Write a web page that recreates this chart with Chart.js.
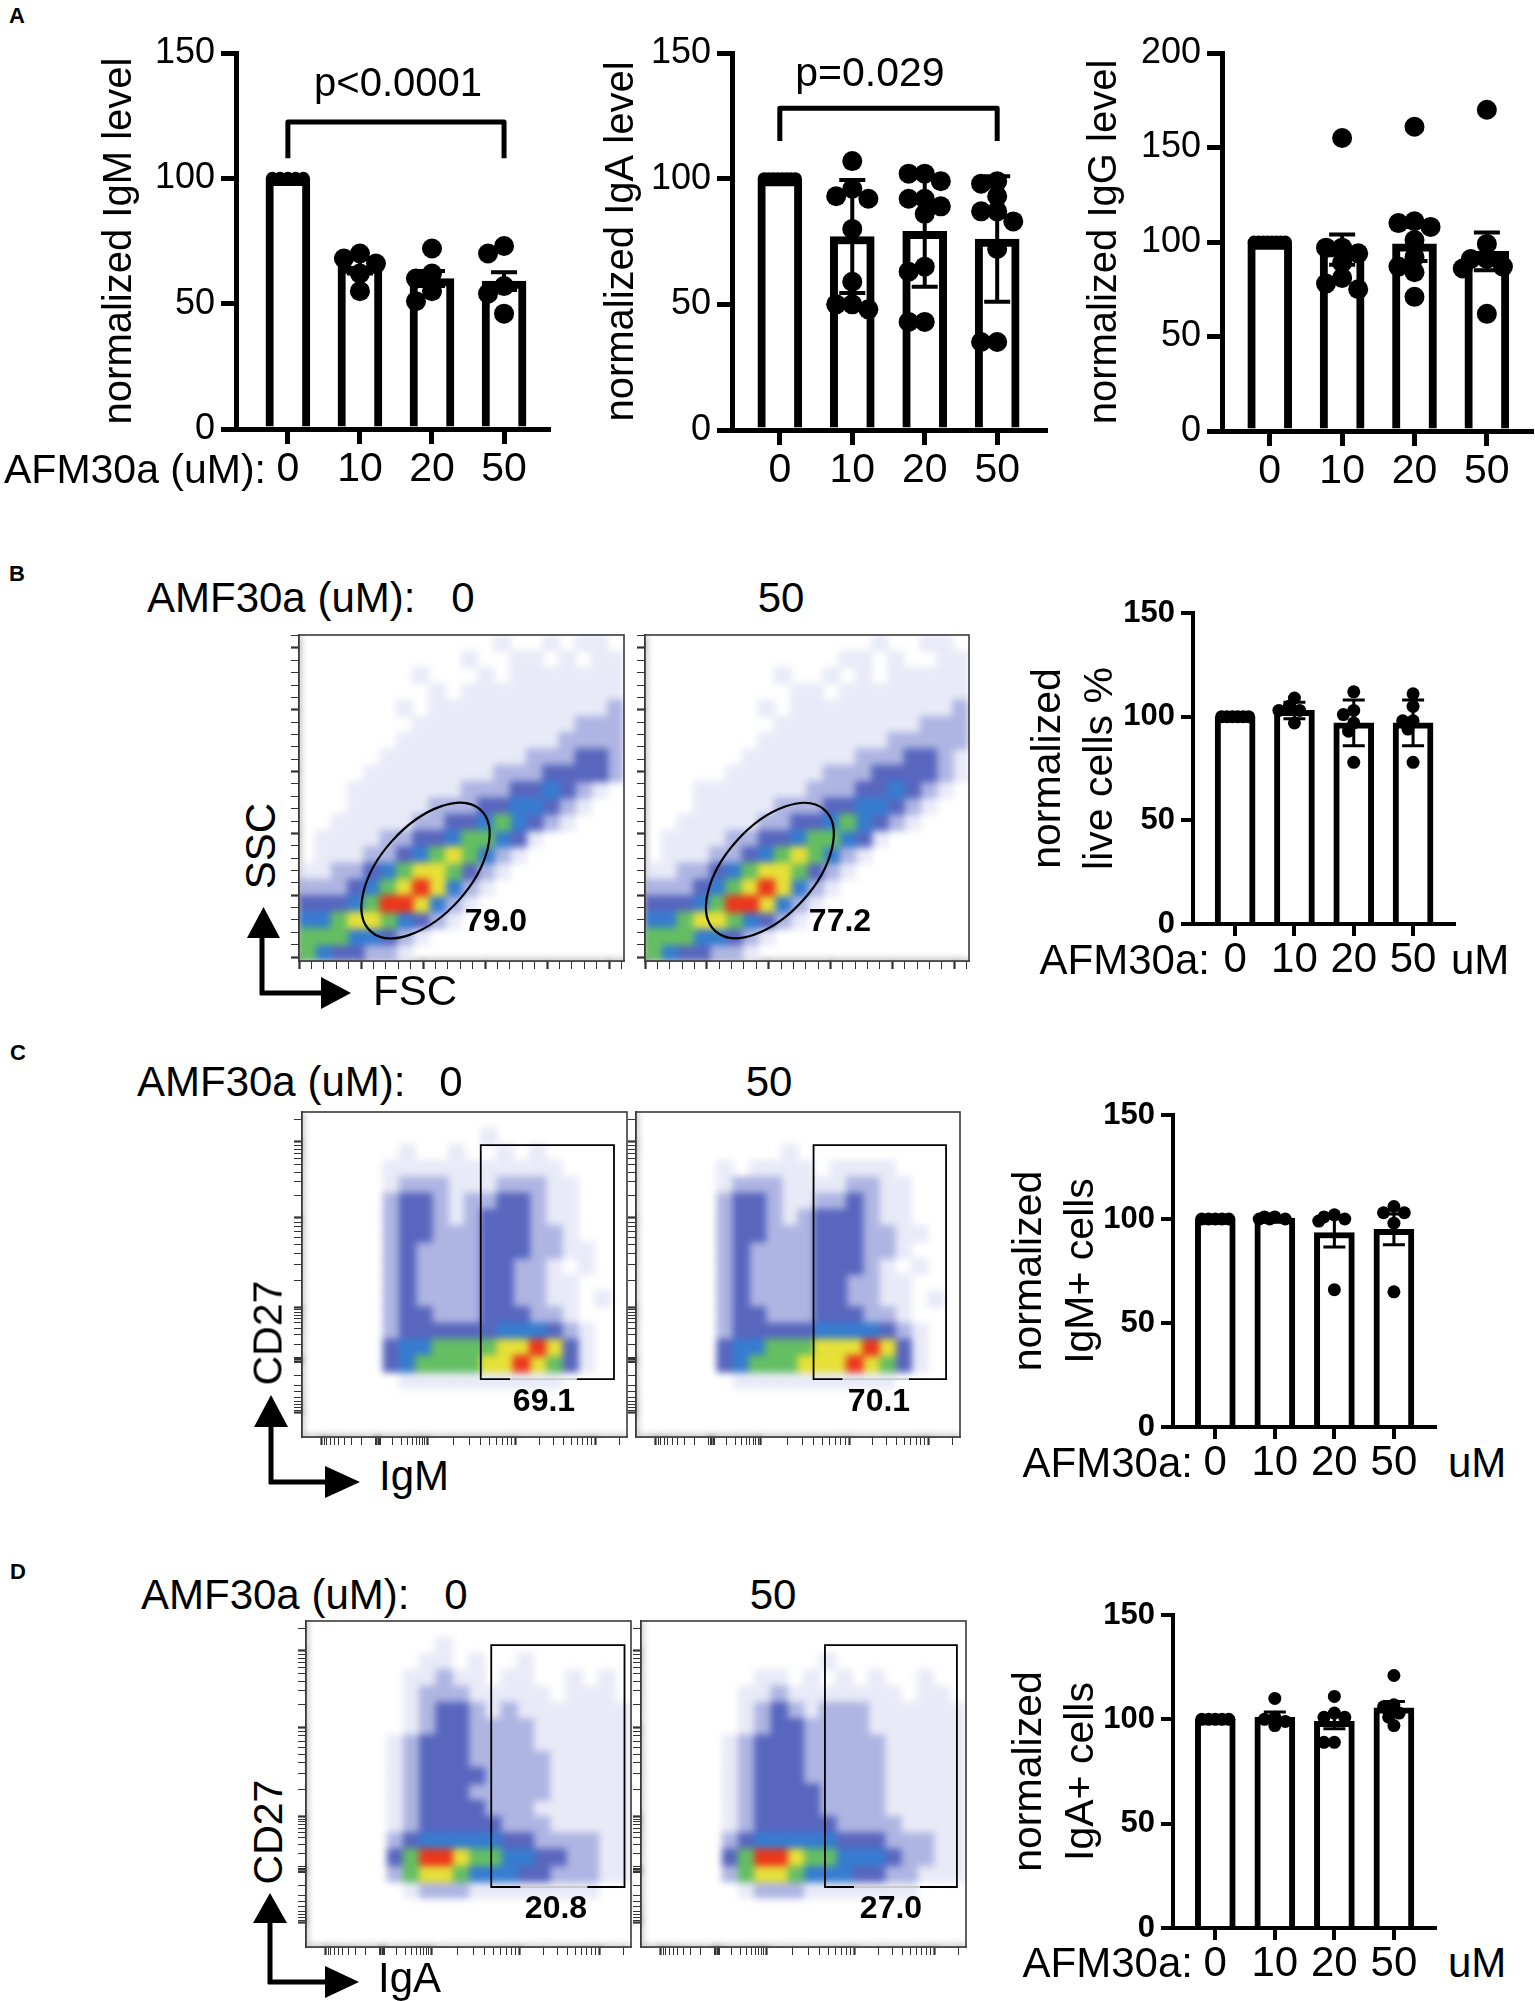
<!DOCTYPE html>
<html>
<head>
<meta charset="utf-8">
<script src="https://cdn.jsdelivr.net/npm/chart.js@4.4.1/dist/chart.umd.min.js"></script>
<style>
  html, body { margin: 0; padding: 0; background: #fff; }
  body { width: 1535px; height: 2001px; position: relative; overflow: hidden;
         font-family: "Liberation Sans", Arial, sans-serif; color: #000; }
  canvas { position: absolute; }
  .t { position: absolute; white-space: nowrap; line-height: 1; }
  svg { position: absolute; left: 0; top: 0; }
</style>
</head>
<body>
<svg width="1535" height="2001">
  <g fill="#000" stroke="#000" stroke-width="5">
    <line x1="262" y1="995" x2="262" y2="934"/><polygon stroke="none" points="247,938 280,938 263.5,907"/>
    <line x1="260" y1="993" x2="325" y2="993"/><polygon stroke="none" points="321,977 321,1009 351,993"/>
    <line x1="271" y1="1484" x2="271" y2="1424"/><polygon stroke="none" points="254,1427 288,1427 271,1395"/>
    <line x1="269" y1="1482" x2="328" y2="1482"/><polygon stroke="none" points="325,1466 325,1498 360,1482"/>
    <line x1="270" y1="1984" x2="270" y2="1920"/><polygon stroke="none" points="253,1923 287,1923 270,1893"/>
    <line x1="268" y1="1982" x2="327" y2="1982"/><polygon stroke="none" points="325,1966 325,1998 359,1982"/>
  </g>
</svg>
<script>
// ---- data ----
const doses = ['0', '10', '20', '50'];

// A: secreted immunoglobulin, normalized to untreated
const igmMean = [100, 65, 60, 59];
const igmErr = [0, 3, 3, 3.5];
const igmDots = [[100, 100, 100, 100, 100], [70, 68, 66, 62, 55], [72, 62, 60, 55, 51], [73, 70, 57, 54, 46]];

const igaMean = [100, 77, 79, 76];
const igaErr = [0, 22.5, 22, 25];
const igaDots = [[100, 100, 100, 100, 100, 100, 100, 100], [107, 96, 93, 92, 80, 59, 50, 48, 50],
  [102, 102, 99, 92, 92, 89, 86, 65, 63, 43, 43], [99, 98, 93, 87, 87, 83, 72, 35, 35]];

const iggMean = [100, 96, 99, 95];
const iggErr = [0, 8, 9, 10];
const iggDots = [[100, 100, 100, 100, 100, 100, 100, 100], [155, 97, 97, 94, 89, 81, 78, 75],
  [161, 111, 110, 108, 101, 92, 87, 84, 71], [170, 99, 91, 91, 87, 86, 62]];

// B-D right hand bar charts
const liveMean = [100, 103, 97, 97];
const liveErr = [0, 4, 11, 11];
const liveDots = [[100, 100, 100, 100, 100, 100], [109, 105, 103, 103, 97], [112, 103, 101, 97, 93, 78], [111, 105, 98, 98, 94, 78]];

const igmPosMean = [100, 100.5, 93.5, 95];
const igmPosErr = [0, 0.5, 7, 7.4];
const igmPosDots = [[100, 100, 100, 100, 100], [101, 101, 100, 100, 100], [102, 101, 100, 99, 66], [106, 103, 103, 98, 65]];

const igaPosMean = [100, 101, 99, 105.5];
const igaPosErr = [0, 2.5, 3.5, 3];
const igaPosDots = [[100, 100, 100, 100, 100], [110, 101, 100, 99, 97], [111, 103, 101, 101, 89, 89], [121, 107, 106, 103, 101, 97]];

// flow plots: density level per cell (0 empty .. 7 red), rows top to bottom
const fscSsc0 = [
  "00000000000010010110", "00000000001001101011", "00000001000101111111", "00000000101111111111",
  "00000010111111111112", "00000001111111111222", "00000011111111112222", "00000111111111222332",
  "00001111111122233332", "00011111112223343210", "00011111222334432100", "00111112233454321000",
  "01111223345543100000", "01112234565421000000", "11223456653210000000", "22234567642100000000",
  "33345776421000000000", "44566543210000000000", "55544321000000000000", "54332210000000000000"];
const fscSsc50 = [
  "00000000000000100110", "00000000000011010011", "00000000100101011111", "00000000011011111111",
  "00000001011111111112", "00000000111111111222", "00000001111111122222", "00000011111112223321",
  "00000111111222333321", "00011111112223343210", "00011111222334432100", "00111112233454321000",
  "01111223345543100000", "01112234565421000000", "11223456653210000000", "22234567642100000000",
  "33345776421000000000", "44566543210000000000", "55544321000000000000", "54332210000000000000"];
const igmCd270 = [
  "00000000000000000000", "00000000000100000000", "00000010010010100000", "00000111111111110000",
  "00000122211122211000", "00000233212233211000", "00000233212333211000", "00000233222333221000",
  "00000232222333221100", "00000232222332210100", "00000232222332211000", "00000232222332211010",
  "00000233222333221000", "00000233333344432100", "00000344555566763100", "00000345555667653100",
  "00000011111111110000", "00000000000000000000", "00000000000000000000", "00000000000000000000"];
const igmCd2750 = [
  "00000000000000000000", "00000000000000000000", "00000000010000000000", "00000101111011110000",
  "00000122211112211000", "00000233211223211000", "00000233212333211000", "00000233222333221100",
  "00000232222333221000", "00000232222333210100", "00000232222332211000", "00000232222332211010",
  "00000233222333221000", "00000233333444432100", "00000344555666763100", "00000345556667653100",
  "00000011111111110000", "00000000000000000000", "00000000000000000000", "00000000000000000000"];
const igaCd270 = [
  "00000000000000000000", "00000000100000000000", "00000001101001000000", "00000011211011001010",
  "00000012221111101110", "00000012332121111111", "00000012332222111111", "00000123332222111111",
  "00000123332222211111", "00000123333222211111", "00000123332222211111", "00000123333222111111",
  "00000123333322211111", "00000234444433222211", "00000357765544332211", "00000256654443322211",
  "00000012221111111100", "00000000000000000000", "00000000000000000000", "00000000000000000000"];
const igaCd2750 = [
  "00000000000000000000", "00000000000000000000", "00000000000100000000", "00000001101010100100",
  "00000011211111110110", "00000012321222111111", "00000012332222111111", "00000123332222211111",
  "00000123332222211111", "00000123332222211111", "00000123333222211111", "00000123333222211111",
  "00000123333322221111", "00000234444433322211", "00000357765544432211", "00000256654443322111",
  "00000012221111111000", "00000000000000000000", "00000000000000000000", "00000000000000000000"];

// gates (axis units) and tick positions
const gateLive0 = { cx: 102, cy: 70, a: 66, b: 36, ang: 48 };
const gateLive50 = { cx: 101, cy: 70, a: 66, b: 36, ang: 48 };
const gateIgm0 = [55, 96, 17.8, 89.8];
const gateIgm50 = [54.8, 95.7, 17.8, 89.8];
const gateIga0 = [57, 98, 18.4, 92.6];
const gateIga50 = [56.6, 97.2, 18.4, 92.6];
const scatterTicks = [];
for (let v = 0; v <= 260; v += 10) scatterTicks.push(v);
const logMajorsX = [6, 23.4, 38.5, 65.8, 90.2];
const logMajorsY = [7.4, 23.7, 40, 67.4, 90.8];

const levelColors = [null, 'rgb(232,234,247)', 'rgb(174,181,226)', 'rgb(88,102,190)',
  'rgb(54,124,208)', 'rgb(100,190,98)', 'rgb(230,224,55)', 'rgb(236,54,28)'];

Chart.defaults.font.family = '"Liberation Sans", Arial, sans-serif';
Chart.defaults.color = '#000';

function makeCanvas(l, t, w, h) {
  const c = document.createElement('canvas');
  c.width = w; c.height = h;
  c.style.left = l + 'px'; c.style.top = t + 'px';
  c.style.width = w + 'px'; c.style.height = h + 'px';
  document.body.appendChild(c);
  return c;
}

function label(text, x, y, size, opt = {}) {
  const d = document.createElement('div');
  d.className = 't';
  d.textContent = text;
  d.style.left = x + 'px';
  d.style.top = y + 'px';
  d.style.fontSize = size + 'px';
  if (opt.bold) d.style.fontWeight = 'bold';
  const ax = { l: '0', c: '-50%', r: '-100%' }[opt.anchor || 'c'];
  d.style.transform = 'translate(' + ax + ',-50%)' + (opt.rot ? ' rotate(' + opt.rot + 'deg)' : '');
  document.body.appendChild(d);
}

// spread the replicate dots sideways so they don't sit on top of each other
function swarm(groups, o) {
  const pts = [];
  groups.forEach((vals, g) => {
    if (vals.every(v => v === vals[0])) {
      const n = vals.length, span = o.barW - 2 * o.ctrlR;
      vals.forEach((v, j) => pts.push({ x: g + (n > 1 ? (j / (n - 1) - 0.5) * span : 0) / o.xPx, y: v, g }));
      return;
    }
    const placed = [];
    const r = o.dotR;
    [...vals].sort((a, b) => b - a).forEach(v => {
      let best = 0, bestGap = -1;
      for (const s of [0, -1, 1, -2, 2, -3, 3]) {
        const dx = s * 0.8 * r;
        let gap = Infinity;
        placed.forEach(p => { gap = Math.min(gap, Math.hypot(dx - p.dx, (v - p.v) * o.yPx)); });
        if (gap >= 1.5 * r) { best = dx; break; }
        if (gap > bestGap) { bestGap = gap; best = dx; }
      }
      placed.push({ dx: best, v });
      pts.push({ x: g + best / o.xPx, y: v, g });
    });
  });
  return pts;
}

const errorBars = {
  id: 'errorBars',
  afterDatasetDraw(chart, args, opts) {
    if (args.index !== 0) return;
    const { ctx, scales: { x, y } } = chart;
    ctx.save();
    ctx.strokeStyle = '#000';
    ctx.lineWidth = opts.lw;
    opts.means.forEach((m, i) => {
      const e = opts.errs[i];
      if (!e) return;
      const px = x.getPixelForValue(i), t = y.getPixelForValue(m + e), b = y.getPixelForValue(m - e);
      ctx.beginPath();
      ctx.moveTo(px, t); ctx.lineTo(px, b);
      ctx.moveTo(px - opts.cap / 2, t); ctx.lineTo(px + opts.cap / 2, t);
      ctx.moveTo(px - opts.cap / 2, b); ctx.lineTo(px + opts.cap / 2, b);
      ctx.stroke();
    });
    ctx.restore();
  }
};

const bracket = {
  id: 'bracket',
  afterDraw(chart, args, opts) {
    if (!opts.show) return;
    const { ctx, scales: { x, y } } = chart;
    const x0 = x.getPixelForValue(opts.from), x1 = x.getPixelForValue(opts.to);
    const yb = y.getPixelForValue(opts.at), yd = y.getPixelForValue(opts.drop);
    ctx.save();
    ctx.strokeStyle = '#000';
    ctx.lineWidth = 5;
    ctx.lineJoin = 'round';
    ctx.beginPath();
    ctx.moveTo(x0, yd); ctx.lineTo(x0, yb); ctx.lineTo(x1, yb); ctx.lineTo(x1, yd);
    ctx.stroke();
    ctx.restore();
  }
};

function barChart(o) {
  const cv = makeCanvas(o.left, o.top, o.w, o.h);
  const bars = o.means.map((m, i) => ({ x: i, y: m }));
  return new Chart(cv, {
    type: 'bar',
    data: {
      datasets: [
        { type: 'bar', data: bars, backgroundColor: '#fff', borderColor: '#000', borderWidth: o.barBorder,
          barThickness: o.barW, borderSkipped: 'bottom', order: 2 },
        { type: 'scatter', data: swarm(o.dots, o), backgroundColor: '#000', borderWidth: 0,
          pointRadius: c => (c.raw && c.raw.g === 0 ? o.ctrlR : o.dotR), order: 1 }
      ]
    },
    options: {
      responsive: false, animation: false, events: [],
      layout: { autoPadding: false, padding: { top: o.padTop, right: o.padRight, left: 0, bottom: 0 } },
      plugins: {
        legend: { display: false }, tooltip: { enabled: false },
        errorBars: { means: o.means, errs: o.errs, lw: o.errLw, cap: o.cap },
        bracket: o.bracket || { show: false }
      },
      scales: {
        x: {
          type: 'linear', min: o.xMin, max: o.xMax, offset: false,
          afterBuildTicks: s => { s.ticks = doses.map((d, i) => ({ value: i })); },
          afterFit: s => { s.height = o.xAxisH; },
          ticks: { callback: v => doses[v], font: { size: o.xFont }, color: '#000', padding: o.xPad,
                   autoSkip: false, maxRotation: 0 },
          grid: { offset: false, drawOnChartArea: false, tickLength: o.tickLen, lineWidth: o.axisW,
                  tickWidth: o.axisW, tickColor: '#000' },
          border: { width: o.axisW, color: '#000' }
        },
        y: {
          min: 0, max: o.yMax,
          afterBuildTicks: s => { s.ticks = o.yTicks.map(v => ({ value: v })); },
          afterFit: s => { s.width = o.yAxisW; },
          ticks: { font: { size: o.yFont, weight: o.yBold ? 'bold' : 'normal' }, color: '#000', padding: o.yPad },
          grid: { drawOnChartArea: false, tickLength: o.tickLen, lineWidth: o.axisW, tickWidth: o.axisW, tickColor: '#000' },
          border: { width: o.axisW, color: '#000' },
          title: { display: true, text: o.title, color: '#000', padding: { top: 4, bottom: 4 },
                   font: { size: o.titleFont, lineHeight: o.titleLH } }
        }
      }
    },
    plugins: [errorBars, bracket]
  });
}

const styleA = { barW: 44, barBorder: 8, axisW: 5, tickLen: 15, xFont: 41, yFont: 36, titleFont: 40, titleLH: 1.2,
  dotR: 10, ctrlR: 6.5, xPx: 72, errLw: 4, cap: 26, xAxisH: 64, xPad: 1, yPad: 6, padTop: 53, padRight: 6 };
const styleB = { barW: 40, barBorder: 6, axisW: 4, tickLen: 12, xFont: 42, yFont: 31, yBold: true, titleFont: 41,
  titleLH: 1.27, dotR: 6.5, ctrlR: 6.5, xPx: 59.5, yPx: 2.075, errLw: 3, cap: 22, xAxisH: 64, xPad: -1, yPad: 6,
  padTop: 40, padRight: 6, xMin: -0.71, xMax: 3.69, yMax: 150, yTicks: [0, 50, 100, 150] };

barChart(Object.assign({}, styleA, { left: 92, top: 0, w: 462, h: 493, yAxisW: 144, xMin: -0.72, xMax: 3.61,
  yMax: 150, yTicks: [0, 50, 100, 150], yPx: 2.507, means: igmMean, errs: igmErr, dots: igmDots,
  title: 'normalized IgM level', bracket: { show: true, from: 0, to: 3, at: 122.5, drop: 108 } }));
barChart(Object.assign({}, styleA, { left: 594, top: 0, w: 457, h: 494, yAxisW: 138, xMin: -0.66, xMax: 3.66,
  yMax: 150, yTicks: [0, 50, 100, 150], yPx: 2.513, means: igaMean, errs: igaErr, dots: igaDots,
  title: 'normalized IgA level', bracket: { show: true, from: 0, to: 3, at: 128, drop: 115 } }));
barChart(Object.assign({}, styleA, { left: 1077, top: 0, w: 458, h: 495, yAxisW: 145, padRight: 4, xMin: -0.66,
  xMax: 3.61, yMax: 200, yTicks: [0, 50, 100, 150, 200], yPx: 1.89, means: iggMean, errs: iggErr, dots: iggDots,
  title: 'normalized IgG level' }));

barChart(Object.assign({}, styleB, { left: 1019, top: 573, w: 441, h: 415, yAxisW: 174,
  means: liveMean, errs: liveErr, dots: liveDots, title: ['normalized', 'live cells %'] }));
barChart(Object.assign({}, styleB, { left: 1000, top: 1075, w: 441, h: 416, yAxisW: 173,
  means: igmPosMean, errs: igmPosErr, dots: igmPosDots, title: ['normalized', 'IgM+ cells'] }));
barChart(Object.assign({}, styleB, { left: 1000, top: 1575, w: 441, h: 417, yAxisW: 173,
  means: igaPosMean, errs: igaPosErr, dots: igaPosDots, title: ['normalized', 'IgA+ cells'] }));

// ---- flow cytometry plots ----
function gridCells(rows, xr, yr) {
  const nr = rows.length, nc = 20;
  const cw = (xr[1] - xr[0]) / nc, rh = (yr[1] - yr[0]) / nr;
  const out = [];
  rows.forEach((row, r) => {
    const s = row.padEnd(nc, '0');
    for (let c = 0; c < nc; c++) {
      const v = +s[c];
      if (v) out.push({ x: xr[0] + (c + 0.5) * cw, y: yr[1] - (r + 0.5) * rh, v });
    }
  });
  return out.sort((a, b) => a.v - b.v);
}

function logTicks(m) {
  const t = [...m];
  const dec = (a, b) => { for (let k = 2; k < 10; k++) t.push(a + (b - a) * Math.log10(k)); };
  dec(m[1], m[2]); dec(m[2], m[3]); dec(m[3], m[4]); dec(m[4], 2 * m[4] - m[3]);
  for (let k = 2; k < 10; k++) t.push(m[1] - (m[1] - m[0]) * Math.log10(k));
  [-0.9, -0.45, 0.45, 0.9].forEach(d => t.push(m[1] + d));
  return t.filter(v => v > 0 && v < 100);
}

// soften the density cells: blur the whole plot area once after the cells are drawn
const soften = {
  id: 'soften',
  afterDatasetsDraw(chart) {
    const { ctx, canvas, chartArea: a } = chart;
    const dpr = chart.currentDevicePixelRatio || 1;
    const tmp = document.createElement('canvas');
    tmp.width = canvas.width; tmp.height = canvas.height;
    tmp.getContext('2d').drawImage(canvas, 0, 0);
    ctx.save();
    ctx.setTransform(1, 0, 0, 1, 0, 0);
    const l = a.left * dpr, t = a.top * dpr, w = (a.right - a.left) * dpr, h = (a.bottom - a.top) * dpr;
    ctx.beginPath(); ctx.rect(l, t, w, h); ctx.clip();
    ctx.clearRect(l, t, w, h);
    ctx.filter = 'blur(' + (3.5 * dpr) + 'px)';
    ctx.drawImage(tmp, 0, 0);
    ctx.restore();
  }
};

const frame = {
  id: 'frame',
  afterDraw(chart) {
    const { ctx, chartArea: a } = chart;
    ctx.save();
    ctx.strokeStyle = '#3a3a3a';
    ctx.lineWidth = 1.6;
    ctx.strokeRect(a.left, a.top, a.right - a.left, a.bottom - a.top);
    ctx.restore();
  }
};

const gate = {
  id: 'gate',
  afterDraw(chart, args, g) {
    const { ctx, scales: { x, y } } = chart;
    ctx.save();
    ctx.strokeStyle = '#000';
    if (g.ellipse) {
      const e = g.ellipse, k = x.getPixelForValue(1) - x.getPixelForValue(0);
      ctx.lineWidth = 2.2;
      ctx.beginPath();
      ctx.ellipse(x.getPixelForValue(e.cx), y.getPixelForValue(e.cy), e.a * k, e.b * k, -e.ang * Math.PI / 180, 0, 2 * Math.PI);
      ctx.stroke();
    } else if (g.rect) {
      const [x0, x1, y0, y1] = g.rect;
      const l = x.getPixelForValue(x0), r = x.getPixelForValue(x1);
      const b = y.getPixelForValue(y0), t = y.getPixelForValue(y1);
      ctx.lineWidth = 1.8;
      ctx.beginPath();
      ctx.moveTo(l + (r - l) * 0.22, b); ctx.lineTo(l, b); ctx.lineTo(l, t); ctx.lineTo(r, t); ctx.lineTo(r, b);
      ctx.lineTo(l + (r - l) * 0.72, b);
      ctx.stroke();
      ctx.strokeStyle = '#c8c8c8';
      ctx.beginPath(); ctx.moveTo(l + (r - l) * 0.22, b); ctx.lineTo(l + (r - l) * 0.72, b); ctx.stroke();
    }
    ctx.restore();
  }
};

function flowPlot(o) {
  const cv = makeCanvas(o.L - 12, o.T - 2, o.W + 14, o.H + 14);
  const nr = o.grid.length;
  const cellR = (Math.max(o.W / 20, o.H / nr) + 1.2) / Math.SQRT2;
  const axis = (range, ticks, majors, fitKey) => ({
    min: range[0], max: range[1],
    afterBuildTicks: s => { s.ticks = ticks.map(v => ({ value: v })); },
    afterFit: s => { s[fitKey] = 12; },
    ticks: { display: false },
    grid: { offset: false, drawOnChartArea: false, tickLength: 8, tickColor: '#333',
            tickWidth: c => (c.tick && majors.includes(c.tick.value) ? 2.2 : 1) },
    border: { color: '#3a3a3a', width: 1.6 }
  });
  new Chart(cv, {
    type: 'scatter',
    data: {
      datasets: [{
        data: gridCells(o.grid, o.xr, o.yr), pointStyle: 'rect', borderWidth: 0, pointRadius: cellR,
        backgroundColor: c => (c.raw ? levelColors[c.raw.v] : 'transparent')
      }]
    },
    options: {
      responsive: false, animation: false, events: [],
      layout: { autoPadding: false, padding: { top: 2, right: 2, left: 0, bottom: 0 } },
      plugins: { legend: { display: false }, tooltip: { enabled: false }, gate: o.gate },
      scales: {
        x: axis(o.xr, o.xTicks, o.xMajors, 'height'),
        y: axis(o.yr, o.yTicks, o.yMajors, 'width')
      }
    },
    plugins: [soften, frame, gate]
  });
}

const sscMajors = [0, 50, 100, 150, 200, 250];
const fscRange = [0, 262], sscRange = [-3.2, 260.5];
flowPlot({ L: 299, T: 635, W: 325, H: 326, grid: fscSsc0, xr: fscRange, yr: sscRange, xTicks: scatterTicks,
  yTicks: scatterTicks, xMajors: sscMajors, yMajors: sscMajors, gate: { ellipse: gateLive0 } });
flowPlot({ L: 645, T: 635, W: 324, H: 326, grid: fscSsc50, xr: fscRange, yr: sscRange, xTicks: scatterTicks,
  yTicks: scatterTicks, xMajors: sscMajors, yMajors: sscMajors, gate: { ellipse: gateLive50 } });

const xLog = logTicks(logMajorsX), yLog = logTicks(logMajorsY);
const pct = [0, 100];
flowPlot({ L: 302, T: 1112, W: 325, H: 325, grid: igmCd270, xr: pct, yr: pct, xTicks: xLog, yTicks: yLog,
  xMajors: logMajorsX, yMajors: logMajorsY, gate: { rect: gateIgm0 } });
flowPlot({ L: 636, T: 1112, W: 324, H: 325, grid: igmCd2750, xr: pct, yr: pct, xTicks: xLog, yTicks: yLog,
  xMajors: logMajorsX, yMajors: logMajorsY, gate: { rect: gateIgm50 } });
flowPlot({ L: 306, T: 1621, W: 325, H: 326, grid: igaCd270, xr: pct, yr: pct, xTicks: xLog, yTicks: yLog,
  xMajors: logMajorsX, yMajors: logMajorsY, gate: { rect: gateIga0 } });
flowPlot({ L: 641, T: 1621, W: 325, H: 326, grid: igaCd2750, xr: pct, yr: pct, xTicks: xLog, yTicks: yLog,
  xMajors: logMajorsX, yMajors: logMajorsY, gate: { rect: gateIga50 } });

// ---- text ----
label('A', 17, 16, 22, { bold: true });
label('B', 17, 574, 22, { bold: true });
label('C', 18, 1053, 22, { bold: true });
label('D', 18, 1572, 22, { bold: true });

label('p<0.0001', 398, 82, 40);
label('p=0.029', 870, 72, 41);
label('AFM30a (uM):', 266, 469, 41, { anchor: 'r' });

label('AMF30a (uM):', 147, 598, 42, { anchor: 'l' });
label('0', 463, 598, 42);
label('50', 781, 598, 42);
label('SSC', 261, 846, 42, { rot: -90 });
label('FSC', 373, 991, 42, { anchor: 'l' });
label('79.0', 496, 920, 32, { bold: true });
label('77.2', 840, 920, 32, { bold: true });
label('AFM30a:', 1210, 960, 42, { anchor: 'r' });
label('uM', 1451, 960, 42, { anchor: 'l' });

label('AMF30a (uM):', 137, 1082, 42, { anchor: 'l' });
label('0', 451, 1082, 42);
label('50', 769, 1082, 42);
label('CD27', 268, 1333, 41, { rot: -90 });
label('IgM', 379, 1476, 42, { anchor: 'l' });
label('69.1', 544, 1400, 32, { bold: true });
label('70.1', 879, 1400, 32, { bold: true });
label('AFM30a:', 1193, 1463, 42, { anchor: 'r' });
label('uM', 1448, 1463, 42, { anchor: 'l' });

label('AMF30a (uM):', 141, 1595, 42, { anchor: 'l' });
label('0', 456, 1595, 42);
label('50', 773, 1595, 42);
label('CD27', 268, 1832, 41, { rot: -90 });
label('IgA', 378, 1978, 42, { anchor: 'l' });
label('20.8', 556, 1907, 32, { bold: true });
label('27.0', 891, 1907, 32, { bold: true });
label('AFM30a:', 1193, 1963, 42, { anchor: 'r' });
label('uM', 1448, 1963, 42, { anchor: 'l' });
</script>
</body>
</html>
